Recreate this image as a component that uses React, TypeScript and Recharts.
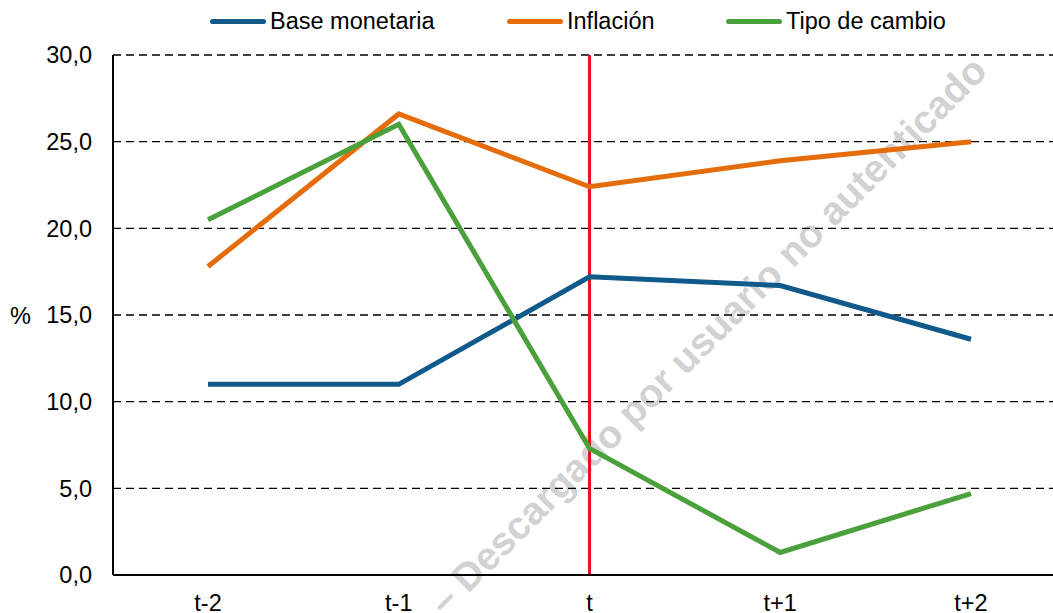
import { LineChart, Line, XAxis, YAxis, CartesianGrid, ReferenceLine } from "recharts";

const periods = ["t-2", "t-1", "t", "t+1", "t+2"];
const baseMonetaria = [11.0, 11.0, 17.2, 16.7, 13.6];
const inflacion = [17.8, 26.6, 22.4, 23.9, 25.0];
const tipoCambio = [20.5, 26.0, 7.3, 1.3, 4.7];
const yTicks = [0, 5, 10, 15, 20, 25, 30];

const SERIES = [
  { key: "base", name: "Base monetaria", color: "#0f5a8a", left: 210 },
  { key: "infl", name: "Inflación", color: "#e46c0a", left: 507 },
  { key: "tc", name: "Tipo de cambio", color: "#4aa03a", left: 726 },
];

const data = periods.map((p, i) => ({
  period: p,
  base: baseMonetaria[i],
  infl: inflacion[i],
  tc: tipoCambio[i],
}));

const FONT = "'Liberation Sans', Arial, sans-serif";
const FS = 23.5;

export default function App() {
  return (
    <div style={{ position: "absolute", left: 0, top: 0, width: 1053, height: 613, overflow: "hidden", background: "#fff", fontFamily: FONT }}>
      {/* watermark */}
      <svg width={1053} height={613} style={{ position: "absolute", left: 0, top: 0 }}>
        <text
          x={989}
          y={73}
          textAnchor="end"
          transform="rotate(-45 989 73)"
          fill="#d2d2d2"
          fontSize={39}
          fontWeight="bold"
          fontFamily={FONT}
        >
          ca – Descargado por usuario no autenticado
        </text>
      </svg>

      <div style={{ position: "absolute", left: 0, top: 0 }}>
        <LineChart width={1070} height={640} data={data} margin={{ top: 55, right: 4, bottom: 35, left: 0 }}>
          <CartesianGrid vertical={false} stroke="#000" strokeWidth={1.3} strokeDasharray="8 5" />
          <XAxis
            dataKey="period"
            padding={{ left: 95, right: 95 }}
            tickLine={false}
            tickSize={0}
            tickMargin={19}
            axisLine={{ stroke: "#000", strokeWidth: 2 }}
            tick={{ fill: "#000", fontSize: FS, fontFamily: FONT }}
          />
          <YAxis
            width={113}
            domain={[0, 30]}
            ticks={yTicks}
            interval={0}
            tickLine={false}
            tickSize={0}
            tickMargin={21}
            axisLine={{ stroke: "#000", strokeWidth: 2 }}
            tick={{ fill: "#000", fontSize: FS, fontFamily: FONT }}
            tickFormatter={(v: number) => v.toFixed(1).replace(".", ",")}
          />
          <ReferenceLine x="t" stroke="#e3141b" strokeWidth={3} />
          {SERIES.map((s) => (
            <Line
              key={s.key}
              type="linear"
              dataKey={s.key}
              name={s.name}
              stroke={s.color}
              strokeWidth={5}
              dot={false}
              activeDot={false}
              isAnimationActive={false}
            />
          ))}
        </LineChart>
      </div>

      {/* y axis unit */}
      <div style={{ position: "absolute", left: 10, top: 303, fontSize: FS, color: "#000" }}>%</div>

      {/* legend */}
      {SERIES.map((s) => (
        <div key={s.key} style={{ position: "absolute", left: s.left, top: 8, display: "flex", alignItems: "center", fontSize: FS, color: "#000", whiteSpace: "nowrap" }}>
          <div style={{ width: 56, height: 5, borderRadius: 3, background: s.color, marginRight: 4 }} />
          <span>{s.name}</span>
        </div>
      ))}
    </div>
  );
}
